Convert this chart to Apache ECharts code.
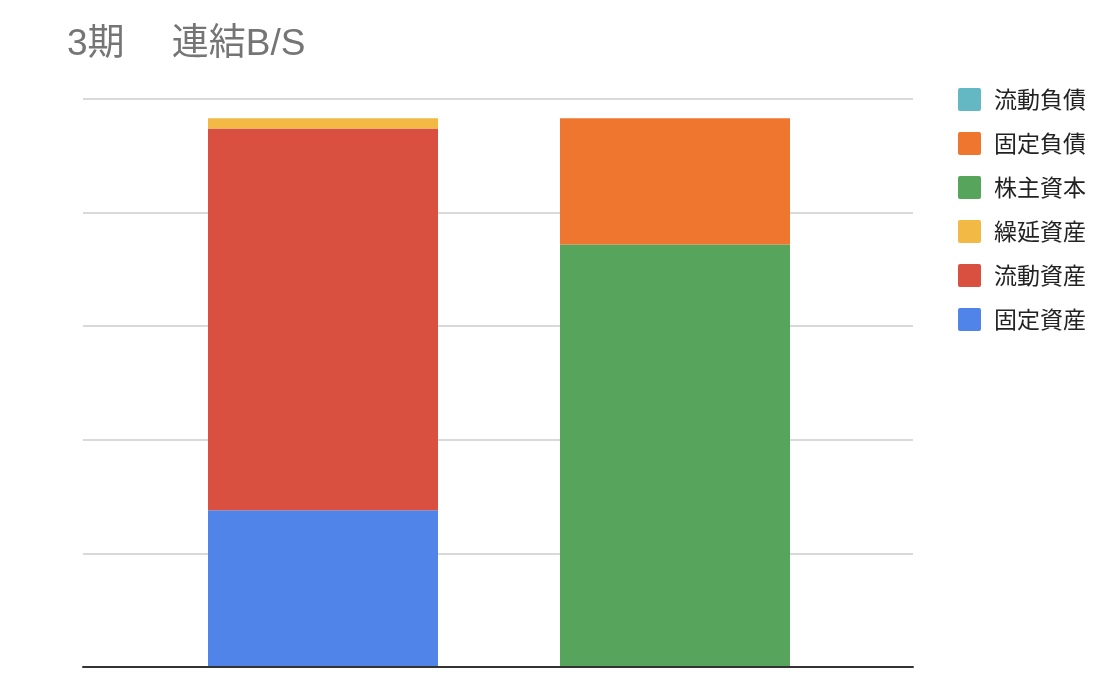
<!DOCTYPE html>
<html>
<head>
<meta charset="utf-8">
<script src="https://cdn.jsdelivr.net/npm/echarts@6/dist/echarts.min.js"></script>
<style>
  html, body { margin: 0; padding: 0; background: #fff; }
  #chart { width: 1106px; height: 690px; }
</style>
</head>
<body>
<div id="chart"></div>
<script>
// two stacked columns: assets (left) vs liabilities + equity (right)
var categories = ['資産', '負債・純資産'];
var legendOrder = ['流動負債', '固定負債', '株主資本', '繰延資産', '流動資産', '固定資産'];

var fixedAssets    = [1.38, null];
var currentAssets  = [3.36, null];
var deferredAssets = [0.09, null];
var equity         = [null, 3.72];
var fixedLiab      = [null, 1.11];
var currentLiab    = [null, 0];

var axisTicks = [0, 1, 2, 3, 4, 5];

var colors = {
  '固定資産': '#5184e8',
  '流動資産': '#d95040',
  '繰延資産': '#f2b944',
  '株主資本': '#57a55d',
  '固定負債': '#ee762f',
  '流動負債': '#64b8c3'
};

var font = '"Noto Sans CJK JP", "Noto Sans", sans-serif';
var titleFont = '"Liberation Sans", "Noto Sans CJK JP", sans-serif';
var squareIcon = 'path://M2,0 H21 Q23,0 23,2 V21 Q23,23 21,23 H2 Q0,23 0,21 V2 Q0,0 2,0 Z';

function bar(name, data) {
  return {
    name: name,
    type: 'bar',
    stack: 'bs',
    data: data,
    barWidth: 230,
    xAxisIndex: 0,
    yAxisIndex: 0,
    itemStyle: { color: colors[name] },
    emphasis: { disabled: true }
  };
}

var chart = echarts.init(document.getElementById('chart'));
var option = {
  animation: false,
  textStyle: { fontFamily: font },
  title: {
    text: '3期　 連結B/S',
    left: 62,
    top: 21,
    textStyle: { fontSize: 37, fontWeight: 'normal', color: '#757575', fontFamily: titleFont }
  },
  legend: {
    data: legendOrder,
    orient: 'vertical',
    left: 953,
    top: 83,
    itemWidth: 23,
    itemHeight: 23,
    itemGap: 21,
    icon: squareIcon,
    textStyle: { fontSize: 23, color: '#222', padding: [0, 0, 0, 8], fontFamily: font }
  },
  grid: [
    // bars
    { left: 147, top: 99, width: 704, height: 568, containLabel: false },
    // gridlines + baseline across the full plot width
    { left: 83, top: 99, width: 830, height: 568, containLabel: false }
  ],
  xAxis: [
    {
      gridIndex: 0, type: 'category', data: categories,
      axisLine: { show: false }, axisTick: { show: false }, axisLabel: { show: false }
    },
    {
      gridIndex: 1, type: 'category', data: categories, z: 5,
      axisLine: { show: true, lineStyle: { color: '#333', width: 2 } },
      axisTick: { show: false }, axisLabel: { show: false }
    }
  ],
  yAxis: [
    {
      gridIndex: 0, type: 'value', min: axisTicks[0], max: axisTicks[axisTicks.length - 1], interval: 1,
      splitLine: { show: false }, axisLabel: { show: false }, axisLine: { show: false }, axisTick: { show: false }
    },
    {
      gridIndex: 1, type: 'value', min: axisTicks[0], max: axisTicks[axisTicks.length - 1], interval: 1,
      splitLine: { show: true, lineStyle: { color: '#cccccc', width: 1.5 } },
      axisLabel: { show: false }, axisLine: { show: false }, axisTick: { show: false }
    }
  ],
  series: [
    bar('固定資産', fixedAssets),
    bar('流動資産', currentAssets),
    bar('繰延資産', deferredAssets),
    bar('株主資本', equity),
    bar('固定負債', fixedLiab),
    bar('流動負債', currentLiab)
  ]
};
chart.setOption(option);
</script>
</body>
</html>
